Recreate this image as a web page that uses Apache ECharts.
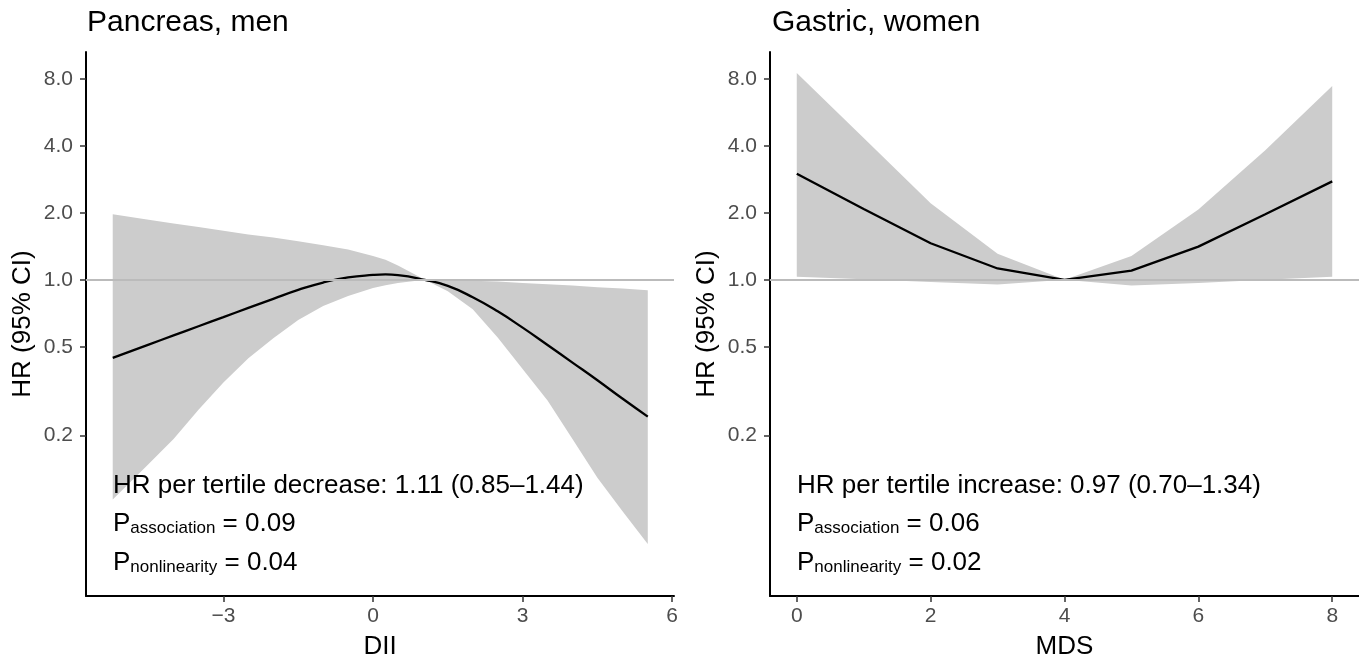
<!DOCTYPE html>
<html lang="en">
<head>
  <meta charset="UTF-8">
  <title>HR (95% CI) curves</title>
  <script src="https://cdn.jsdelivr.net/npm/echarts@6.0.0/dist/echarts.min.js"></script>
  <style>
    html, body { margin: 0; padding: 0; background: #fff; }
    #chart { width: 1359px; height: 665px; }
  </style>
</head>
<body>
  <div id="chart"></div>
  <script>
    // ---- Pancreas, men : HR by DII ----
    var diiX  = [-5.22, -4.5, -4, -3.5, -3, -2.5, -2, -1.5, -1, -0.5, 0, 0.25, 0.5, 1.04, 1.5, 2, 2.5, 3, 3.5, 4, 4.5, 5, 5.51];
    var diiHR = [0.446, 0.512, 0.563, 0.619, 0.680, 0.748, 0.822, 0.901, 0.973, 1.025, 1.052, 1.058, 1.051, 1.0, 0.939, 0.835, 0.722, 0.610, 0.510, 0.425, 0.354, 0.293, 0.243];
    var diiLo = [0.103, 0.149, 0.193, 0.261, 0.346, 0.444, 0.547, 0.660, 0.763, 0.847, 0.920, 0.947, 0.969, 1.0, 0.889, 0.737, 0.551, 0.398, 0.287, 0.193, 0.129, 0.0915, 0.065];
    var diiHi = [1.97, 1.86, 1.79, 1.73, 1.66, 1.60, 1.55, 1.49, 1.43, 1.37, 1.28, 1.23, 1.16, 1.0, 0.997, 0.992, 0.983, 0.969, 0.956, 0.943, 0.927, 0.914, 0.898];

    // ---- Gastric, women : HR by MDS ----
    var mdsX  = [0, 1, 2, 3, 4, 5, 6, 7, 8];
    var mdsHR = [3.0, 2.08, 1.46, 1.125, 1.0, 1.10, 1.41, 1.97, 2.77];
    var mdsLo = [1.034, 1.007, 0.977, 0.954, 1.0, 0.944, 0.967, 1.0, 1.034];
    var mdsHi = [8.5, 4.34, 2.21, 1.31, 1.0, 1.28, 2.07, 3.82, 7.43];

    // ticks and axis limits
    var hrTicks  = [0.2, 0.5, 1, 2, 4, 8];
    var diiTicks = [-3, 0, 3, 6];
    var mdsTicks = [0, 2, 4, 6, 8];
    var hrLimits = [0.038, 10.56];
    var diiLimits = [-5.756, 6.036];
    var mdsLimits = [-0.4, 8.4];

    var FONT = 'Liberation Sans, Arial, Helvetica, sans-serif';
    var log2 = function (v) { return Math.log(v) / Math.LN2; };

    function pairs(xs, ys) {
      return xs.map(function (x, i) { return [x, log2(ys[i])]; });
    }

    function xAxisFor(idx, name, lim, ticks) {
      return {
        type: 'value', gridIndex: idx, min: lim[0], max: lim[1],
        name: name, nameLocation: 'middle', nameGap: 38,
        nameTextStyle: { fontSize: 26, color: '#000', fontFamily: FONT },
        axisLine: { show: true, onZero: false, lineStyle: { color: '#000', width: 2 } },
        axisTick: { show: true, length: 6, customValues: ticks, lineStyle: { color: '#333', width: 1.5 } },
        axisLabel: { customValues: ticks, fontSize: 21, color: '#4d4d4d', margin: 10, fontFamily: FONT,
          formatter: function (v) { return v < 0 ? '\u2212' + Math.abs(v) : String(v); } },
        splitLine: { show: false }
      };
    }

    function yAxisFor(idx) {
      var t = hrTicks.map(log2);
      return {
        type: 'value', gridIndex: idx, min: log2(hrLimits[0]), max: log2(hrLimits[1]),
        name: 'HR (95% CI)', nameLocation: 'middle', nameGap: 50, nameRotate: 90,
        nameTextStyle: { fontSize: 26, color: '#000', fontFamily: FONT },
        axisLine: { show: true, onZero: false, lineStyle: { color: '#000', width: 2 } },
        axisTick: { show: true, length: 6, customValues: t, lineStyle: { color: '#333', width: 1.5 } },
        axisLabel: { customValues: t, fontSize: 21, color: '#4d4d4d', margin: 13, fontFamily: FONT,
          formatter: function (v) { return Math.pow(2, v).toFixed(1); } },
        splitLine: { show: false }
      };
    }

    // grey 95% CI ribbon, upper edge forward then lower edge back
    function bandSeries(idx, xs, lo, hi) {
      return {
        type: 'custom', xAxisIndex: idx, yAxisIndex: idx, z: 1, silent: true,
        data: [[xs[0], log2(hi[0])]],
        renderItem: function (params, api) {
          var pts = [];
          for (var i = 0; i < xs.length; i++) pts.push(api.coord([xs[i], log2(hi[i])]));
          for (var j = xs.length - 1; j >= 0; j--) pts.push(api.coord([xs[j], log2(lo[j])]));
          return { type: 'polygon', shape: { points: pts }, style: { fill: '#cccccc' } };
        }
      };
    }

    function panelSeries(idx, xs, hr, lo, hi, smooth) {
      return [
        bandSeries(idx, xs, lo, hi),
        {
          type: 'line', xAxisIndex: idx, yAxisIndex: idx, data: [], symbol: 'none', z: 2,
          markLine: {
            silent: true, symbol: 'none', label: { show: false },
            lineStyle: { color: '#bbbbbb', width: 2, type: 'solid' },
            data: [{ yAxis: 0 }]
          }
        },
        {
          type: 'line', xAxisIndex: idx, yAxisIndex: idx, data: pairs(xs, hr), smooth: smooth,
          symbol: 'none', z: 3, lineStyle: { color: '#000', width: 2.3 }
        }
      ];
    }

    function note(x, lines) {
      var rich = {
        m: { fontSize: 26, fontFamily: FONT, color: '#000', lineHeight: 30, verticalAlign: 'bottom' },
        s: { fontSize: 17, fontFamily: FONT, color: '#000', lineHeight: 14, verticalAlign: 'bottom' }
      };
      return [
        { type: 'text', x: x, y: 486, z: 10, style: { text: lines[0], font: '26px ' + FONT, fill: '#000', verticalAlign: 'middle' } },
        { type: 'text', x: x, y: 522, z: 10, style: { text: '{m|P}{s|association}{m| = ' + lines[1] + '}', rich: rich, verticalAlign: 'middle' } },
        { type: 'text', x: x, y: 561, z: 10, style: { text: '{m|P}{s|nonlinearity}{m| = ' + lines[2] + '}', rich: rich, verticalAlign: 'middle' } }
      ];
    }

    var chart = echarts.init(document.getElementById('chart'));
    chart.setOption({
      animation: false,
      backgroundColor: '#fff',
      title: [
        { text: 'Pancreas, men', left: 82, top: 3, textStyle: { fontSize: 30, fontWeight: 'normal', color: '#000', fontFamily: FONT } },
        { text: 'Gastric, women', left: 767, top: 3, textStyle: { fontSize: 30, fontWeight: 'normal', color: '#000', fontFamily: FONT } }
      ],
      grid: [
        { left: 86, top: 52, width: 588, height: 553 },
        { left: 770, top: 52, right: 0, height: 553 }
      ],
      xAxis: [
        xAxisFor(0, 'DII', diiLimits, diiTicks),
        xAxisFor(1, 'MDS', mdsLimits, mdsTicks)
      ],
      yAxis: [yAxisFor(0), yAxisFor(1)],
      series: panelSeries(0, diiX, diiHR, diiLo, diiHi, true)
        .concat(panelSeries(1, mdsX, mdsHR, mdsLo, mdsHi, false)),
      graphic: note(113, ['HR per tertile decrease: 1.11 (0.85\u20131.44)', '0.09', '0.04'])
        .concat(note(797, ['HR per tertile increase: 0.97 (0.70\u20131.34)', '0.06', '0.02']))
    });
  </script>
</body>
</html>
